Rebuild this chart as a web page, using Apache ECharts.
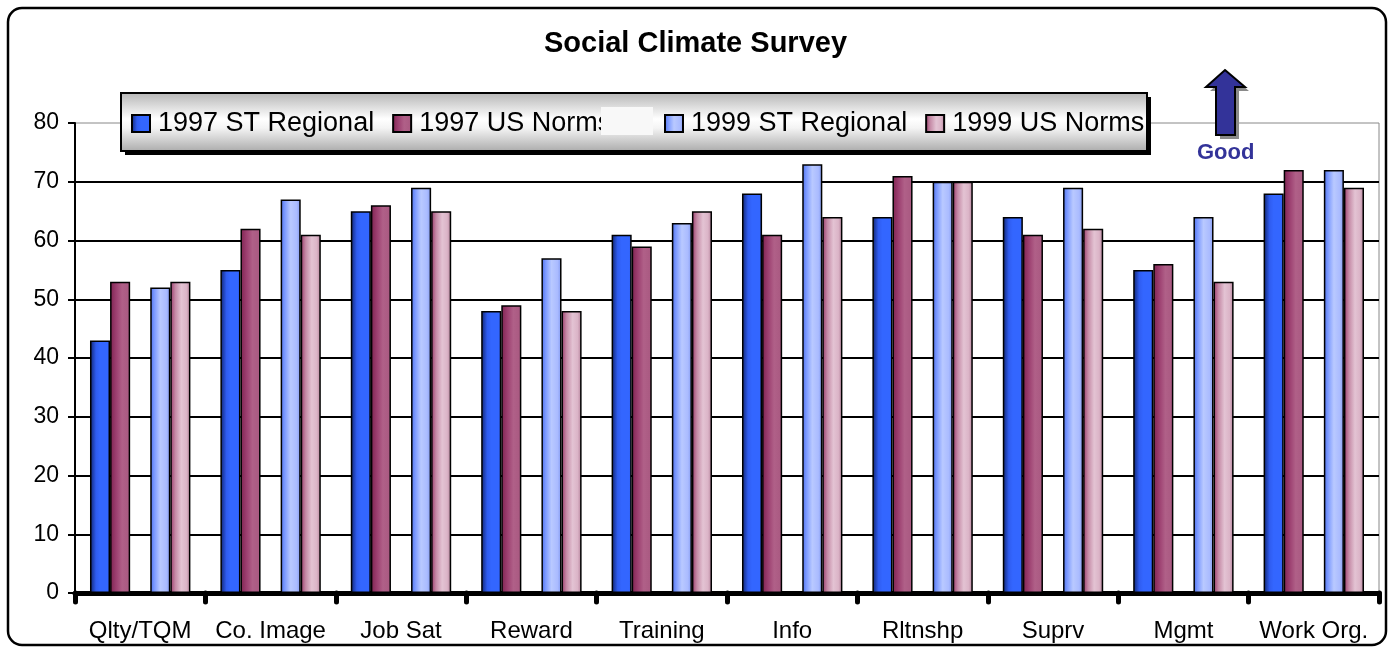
<!DOCTYPE html>
<html>
<head>
<meta charset="utf-8">
<script src="https://cdn.jsdelivr.net/npm/echarts@6/dist/echarts.min.js"></script>
<style>html,body{margin:0;padding:0;background:#fff;}#chart{width:1391px;height:649px;}</style>
</head>
<body>
<div id="chart"></div>
<script>
const categories = ['Qlty/TQM','Co. Image','Job Sat','Reward','Training','Info','Rltnshp','Suprv','Mgmt','Work Org.'];
const st1997 = [43,55,65,48,61,68,64,64,55,68];
const us1997 = [53,62,66,49,59,61,71,61,56,72];
const st1999 = [52,67,69,57,63,73,70,69,64,72];
const us1999 = [53,61,65,48,65,64,70,62,53,69];
const blank  = [null,null,null,null,null,null,null,null,null,null];
const yTicks = [0,10,20,30,40,50,60,70,80];

const FONT = '"Liberation Sans", Arial, sans-serif';
function hgrad(stops){return {type:'linear',x:0,y:0,x2:1,y2:0,colorStops:stops.map(s=>({offset:s[0],color:s[1]}))};}
const cBlue = hgrad([[0,'#10246e'],[0.3,'#2f5cf0'],[0.5,'#3366ff'],[0.88,'#3366ff'],[1,'#2448c8']]);
const cMag = hgrad([[0,'#7e2350'],[0.3,'#9c3f70'],[0.6,'#b06088'],[1,'#a85880']]);
const cLBlue = hgrad([[0,'#4d6fe8'],[0.2,'#7a98ff'],[0.5,'#b9c9ff'],[0.8,'#aabbff'],[1,'#8098f0']]);
const cPink = hgrad([[0,'#9a3a6a'],[0.25,'#c58aa6'],[0.55,'#e3c3d3'],[0.8,'#dbb4c7'],[1,'#b38099']]);

function barSeries(name, data, color){
  return {name:name,type:'bar',data:data,barGap:'0%',barCategoryGap:'23%',
    itemStyle:{color:color,borderColor:'#000',borderWidth:1.5},emphasis:{disabled:true}};
}
const legendText = {fontFamily:FONT,fontSize:27,color:'#000',lineHeight:27,padding:[0,0,0,3]};

const chart = echarts.init(document.getElementById('chart'));
chart.setOption({
  animation:false,
  backgroundColor:'#fff',
  title:{text:'Social Climate Survey',left:'center',top:29,padding:0,
    textStyle:{fontFamily:FONT,fontSize:29,fontWeight:'bold',color:'#000'}},
  legend:[
    {data:['1997 ST Regional','1997 US Norms'],left:131,top:110,padding:0,itemGap:18,icon:'rect',
     itemWidth:18,itemHeight:17,itemStyle:{borderColor:'#000',borderWidth:2},textStyle:legendText},
    {data:['1999 ST Regional','1999 US Norms'],left:664,top:110,padding:0,itemGap:18,icon:'rect',
     itemWidth:18,itemHeight:17,itemStyle:{borderColor:'#000',borderWidth:2},textStyle:legendText}
  ],
  grid:{left:75,right:12,top:123,bottom:56,show:true,borderColor:'#888',borderWidth:1,backgroundColor:'transparent'},
  xAxis:{type:'category',data:categories,offset:2,
    axisLine:{lineStyle:{color:'#000',width:5}},
    axisTick:{show:true,interval:0,length:9,lineStyle:{color:'#000',width:5,cap:'round'}},
    axisLabel:{interval:0,fontFamily:FONT,fontSize:24,color:'#000',margin:24}},
  yAxis:{type:'value',min:0,max:80,interval:10,
    axisLine:{show:true,lineStyle:{color:'#000',width:2}},
    axisTick:{show:true,length:7,lineStyle:{color:'#000',width:2}},
    axisLabel:{fontFamily:FONT,fontSize:23,color:'#000',margin:16,
      formatter:function(v){return yTicks.indexOf(v)>=0?String(v):'';}},
    splitLine:{show:true,lineStyle:{color:['#000','#000','#000','#000','#000','#000','#000','#000','rgba(0,0,0,0)'],width:2}}},
  series:[
    barSeries('1997 ST Regional',st1997,cBlue),
    barSeries('1997 US Norms',us1997,cMag),
    barSeries('',blank,'#fff'),
    barSeries('1999 ST Regional',st1999,cLBlue),
    barSeries('1999 US Norms',us1999,cPink)
  ],
  graphic:[
    {type:'rect',z:100,silent:true,shape:{x:8,y:8,width:1378,height:637,r:14},
     style:{fill:'none',stroke:'#000',lineWidth:2.5}},
    {type:'rect',z:1,silent:true,shape:{x:125,y:97,width:1026,height:58},style:{fill:'#000'}},
    {type:'rect',z:2,silent:true,shape:{x:121,y:93,width:1026,height:58},
     style:{fill:{type:'linear',x:0,y:0,x2:0,y2:1,colorStops:[{offset:0,color:'#b4b4b4'},{offset:0.45,color:'#ffffff'},{offset:0.6,color:'#f4f4f4'},{offset:1,color:'#aaaaaa'}]},stroke:'#000',lineWidth:2}},
    {type:'rect',z:200,silent:true,shape:{x:601,y:107,width:52,height:28},style:{fill:'#f8f8f8'}},
    {type:'polygon',z:50,silent:true,shape:{points:[[1229,74],[1249,91],[1239,91],[1239,139],[1220,139],[1220,91],[1210,91]]},style:{fill:'#8a8a8a'}},
    {type:'polygon',z:51,silent:true,shape:{points:[[1225,70],[1245,87],[1235,87],[1235,135],[1216,135],[1216,87],[1206,87]]},style:{fill:'#333399',stroke:'#000',lineWidth:2}},
    {type:'text',z:51,silent:true,left:1197,top:142,style:{text:'Good',font:'bold 22px "Liberation Sans", Arial, sans-serif',fill:'#333399'}}
  ]
});
</script>
</body>
</html>
